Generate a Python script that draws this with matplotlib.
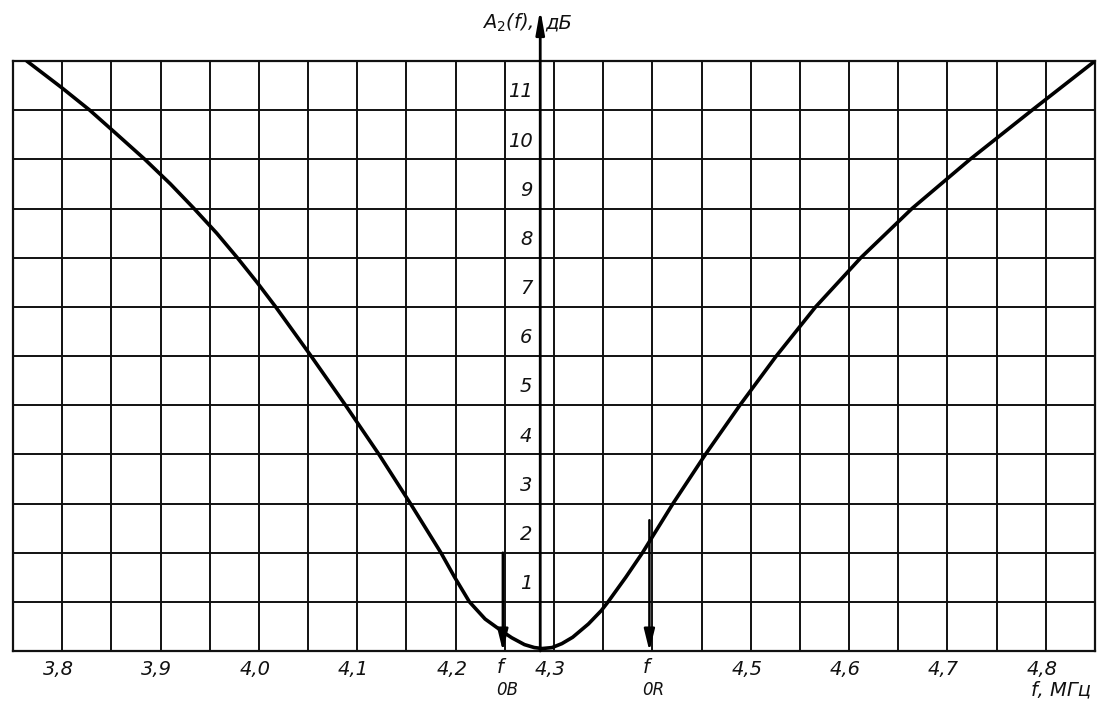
import numpy as np
import matplotlib
matplotlib.use("Agg")
import matplotlib.pyplot as plt

# ---- data ----
freq = [3.764, 3.80, 3.828, 3.855, 3.884, 3.91, 3.934, 3.957, 3.978, 3.998,
        4.017, 4.053, 4.088, 4.122, 4.154, 4.185, 4.199, 4.214, 4.23, 4.248,
        4.257, 4.27, 4.28, 4.288, 4.298, 4.308, 4.319, 4.335, 4.348, 4.355,
        4.373, 4.390, 4.421, 4.454, 4.489, 4.526, 4.566, 4.612, 4.664,
        4.723, 4.786, 4.85]
atten = [12.0, 11.45, 11.0, 10.52, 10.0, 9.5, 9.0, 8.5, 8.0, 7.5,
         7.0, 6.0, 5.0, 4.0, 3.0, 2.0, 1.5, 1.0, 0.65, 0.39,
         0.27, 0.13, 0.07, 0.05, 0.07, 0.15, 0.28, 0.55, 0.82, 1.0,
         1.5, 2.0, 3.0, 4.0, 5.0, 6.0, 7.0, 8.0, 9.0,
         10.0, 11.0, 12.0]

x_tick_vals = [3.8, 3.9, 4.0, 4.1, 4.2, 4.3, 4.5, 4.6, 4.7, 4.8]
x_tick_text = ["3,8", "3,9", "4,0", "4,1", "4,2", "4,3", "4,5", "4,6", "4,7", "4,8"]
y_tick_vals = [1, 2, 3, 4, 5, 6, 7, 8, 9, 10, 11]

f_center = 4.286          # position of the ordinate axis
f_0B, f_0B_top = 4.248, 2.0
f_0R, f_0R_top = 4.397, 2.66

# ---- figure ----
fig = plt.figure(figsize=(10.97, 7.17), dpi=100)
ax = fig.add_axes([13/1097, 1-651/717, (1095-13)/1097, (651-61)/717])
ax.set_xlim(3.75, 4.85)
ax.set_ylim(0, 12)

ink = "#111111"
ax.set_xticks(np.arange(3.75, 4.851, 0.05))
ax.set_yticks(np.arange(0, 12.01, 1))
ax.tick_params(length=0, labelbottom=False, labelleft=False)
ax.grid(True, color=ink, lw=1.4)
for s in ax.spines.values():
    s.set_color(ink)
    s.set_linewidth(1.6)

# curve
ax.plot(freq, atten, color="black", lw=2.6, solid_capstyle="round",
        solid_joinstyle="round", zorder=5)

# ordinate axis with arrow
ax.annotate("", xy=(f_center, 13.05), xytext=(f_center, 0),
            arrowprops=dict(arrowstyle="-|>,head_length=1.4,head_width=0.25",
                            color="black", lw=2.0, shrinkA=0, shrinkB=0),
            annotation_clip=False, zorder=6)

# frequency markers
for fm, top in [(f_0B, f_0B_top), (f_0R, f_0R_top)]:
    ax.annotate("", xy=(fm, 0), xytext=(fm, top),
                arrowprops=dict(arrowstyle="-|>,head_length=1.3,head_width=0.32",
                                color="black", lw=1.8, shrinkA=0, shrinkB=0),
                zorder=6)

font = dict(family="DejaVu Sans", style="italic", fontsize=14, color=ink)

# x tick labels
for v, t in zip(x_tick_vals, x_tick_text):
    ax.text(v - 0.004, -0.38, t, ha="center", va="center", **font)

# y tick labels
for v in y_tick_vals:
    ax.text(f_center - 0.008, v + 0.37, str(v), ha="right", va="center", **font)

# marker labels
for fm, sub in [(f_0B, "0B"), (f_0R, "0R")]:
    ax.text(fm - 0.003, -0.33, "f", ha="center", va="center", **font)
    ax.text(fm + 0.004, -0.8, sub, ha="center", va="center",
            family="DejaVu Sans", style="italic", fontsize=12, color=ink)

# axis titles
ax.text(f_center - 0.007, 12.78, "A$_2$(f),", ha="right", va="center",
        clip_on=False, **font)
ax.text(f_center + 0.005, 12.78, "дБ", ha="left", va="center",
        clip_on=False, **font)
ax.text(4.846, -0.8, "f, МГц", ha="right", va="center", clip_on=False, **font)

fig.savefig("out.png", dpi=100, facecolor="white")
